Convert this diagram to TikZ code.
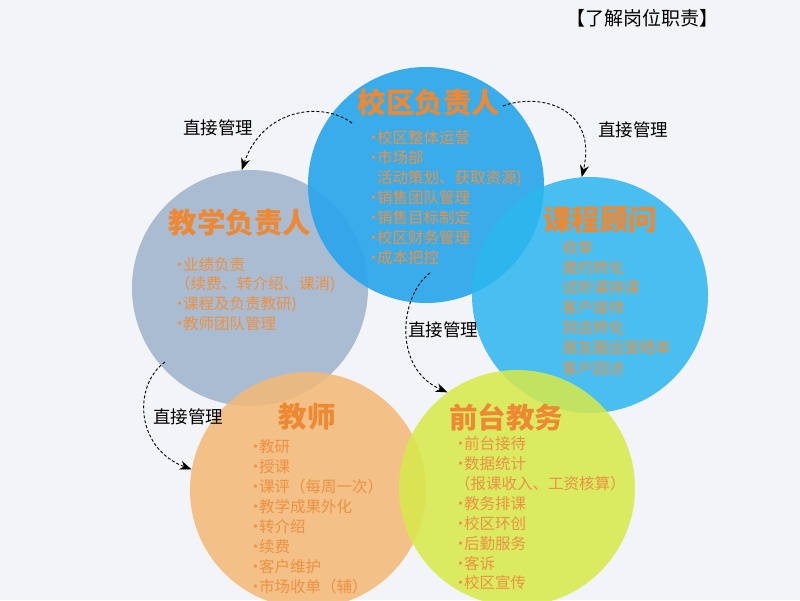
\documentclass[tikz,border=0pt]{standalone}
\usepackage{fontspec}
\newfontfamily\cjk{Noto Sans CJK SC}
\usetikzlibrary{arrows.meta}
\definecolor{bgc}{HTML}{F3F4F8}
\definecolor{ctop}{HTML}{2AA6EB}
\definecolor{cleft}{HTML}{9DB3CC}
\definecolor{cright}{HTML}{2CB7EF}
\definecolor{corange}{HTML}{F3B975}
\definecolor{cyellow}{HTML}{D7EA4A}
\definecolor{torange}{HTML}{EE8833}
\definecolor{iorange}{HTML}{EE9040}
\newcommand{\dt}{\llap{\makebox[7pt]{·}}}
\tikzset{
  role/.style={circle, minimum size=236pt, inner sep=0pt, draw=none, fill opacity=0.86},
  roletitle/.style={font=\cjk\bfseries\fontsize{28.5}{30}\selectfont, text=torange, inner sep=0pt},
  item/.style={font=\cjk\fontsize{15.5}{16}\selectfont, text=iorange, inner sep=0pt, anchor=west},
  mgr/.style={font=\cjk\fontsize{17.5}{18}\selectfont, text=black, inner sep=0pt},
  link/.style={dashed, dash pattern=on 3pt off 2pt, line width=0.9pt, black, -{Stealth[length=12pt,width=9pt]}}
}
\begin{document}
\begin{tikzpicture}[x=1pt,y=-1pt]
\fill[bgc] (0,0) rectangle (800,600);
\useasboundingbox (0,0) rectangle (800,600);
% circles
\node[role, fill=cleft] (left) at (250,288) {};
\node[role, fill=ctop, fill opacity=0.92] (top) at (426,185) {};
\node[role, fill=cright] (right) at (590,295) {};
\node[role, fill=corange] (teach) at (308,490) {};
\node[role, fill=cyellow] (desk) at (517,488) {};
% heading
\node[font=\cjk\fontsize{19}{20}\selectfont, inner sep=0pt] (heading) at (642,18) {【了解岗位职责】};
% titles
\node[roletitle] (ttop) at (429,103) {校区负责人};
\node[roletitle] (tleft) at (240,223) {教学负责人};
\node[roletitle] (tright) at (600,220) {课程顾问};
\node[roletitle] (tteach) at (307,417) {教师};
\node[roletitle] (tdesk) at (506,417) {前台教务};
% top items
\foreach \txt [count=\i] in {\dt 校区整体运营,\dt 市场部,活动策划、获取资源),\dt 销售团队管理,\dt 销售目标制定,\dt 校区财务管理,\dt 成本把控}
  \node[item] (itop\i) at (377,118+20*\i) {\txt};
% left items
\node[item] (ileft1) at (183,265) {\dt 业绩负责};
\node[item] (ileft2) at (175,284) {（续费、转介绍、课消)};
\node[item] (ileft3) at (183,305) {\dt 课程及负责教研)};
\node[item] (ileft4) at (183,324) {\dt 教师团队管理};
% right items
\foreach \txt [count=\i] in {收单,邀约转化,试听课排课,客户接待,到店转化,朋友圈运营晒单,客户回访}
  \node[item] (iright\i) at (562,227.5+20.1*\i) {\txt};
% teacher items
\foreach \txt [count=\i] in {教研,授课,课评（每周一次）,教学成果外化,转介绍,续费,客户维护,市场收单（辅）}
  \node[item] (iteach\i) at (259,427+20*\i) {\dt\txt};
% desk items
\node[item] (idesk1) at (464,444) {\dt 前台接待};
\node[item] (idesk2) at (464,464) {\dt 数据统计};
\node[item] (idesk3) at (455,484) {（报课收入、工资核算）};
\foreach \txt [count=\i] in {教务排课,校区环创,后勤服务,客诉,校区宣传}
  \node[item] (ideskb\i) at (464,484+19.8*\i) {\dt\txt};
% manager labels
\node[mgr] (m1) at (218,128) {直接管理};
\node[mgr] (m2) at (633,130) {直接管理};
\node[mgr] (m3) at (443,330) {直接管理};
\node[mgr] (m4) at (188,417) {直接管理};
% arrows
\coordinate (s1) at (352,123);
\coordinate (s2) at (503,106);
\coordinate (s3) at (430,273);
\coordinate (s4) at (165,362);
\draw[link] (s1) .. controls (320,100) and (262,110) .. (left.94);
\draw[link] (s2) .. controls (540,92) and (598,108) .. (right.94);
\draw[link] (s3) .. controls (400,295) and (392,368) .. (desk.126);
\draw[link] (s4) .. controls (133,385) and (135,448) .. (teach.170);
\end{tikzpicture}
\end{document}
